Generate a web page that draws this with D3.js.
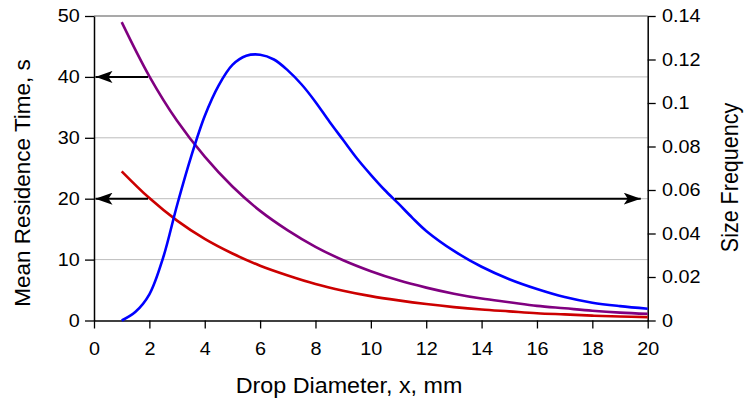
<!DOCTYPE html>
<html>
<head>
<meta charset="utf-8">
<script src="https://cdn.jsdelivr.net/npm/d3@7"></script>
<style>
  body { margin: 0; background: #fff; }
  svg text { font-family: "Liberation Sans", Arial, sans-serif; fill: #000; }
</style>
</head>
<body>
<div class="visData"></div>
<script>
const w = 744;
const h = 400;
const margin = { top: 16, right: 96.3, bottom: 79.5, left: 94 };

// drop diameter (mm) for the residence time curves
const diameters = [1, 2, 3, 4, 5, 6, 7, 8, 9, 10, 11, 12, 13, 14, 15, 16, 17, 18, 19, 20];
// mean residence time, s (purple and red)
const timeUpper = [49, 40.1, 32.8, 26.9, 22.0, 18.0, 14.8, 12.1, 9.9, 8.1, 6.6, 5.4, 4.4, 3.6, 3.0, 2.4, 2.0, 1.6, 1.3, 1.1];
const timeLower = [24.5, 20.1, 16.4, 13.4, 11.0, 9.0, 7.4, 6.0, 4.9, 4.0, 3.3, 2.7, 2.2, 1.8, 1.5, 1.2, 1.0, 0.8, 0.65, 0.55];

// size frequency (blue), right axis
const freqX = [1, 1.5, 2, 2.5, 3, 3.5, 4, 4.5, 5, 5.5, 6, 6.5, 7, 7.5, 8, 8.5, 9, 9.5, 10, 10.5, 11, 11.5, 12, 13, 14, 15, 16, 17, 18, 19, 20];
const freqY = [0, 0.004, 0.012, 0.029, 0.053, 0.075, 0.094, 0.108, 0.1175, 0.1217, 0.1222, 0.12, 0.115, 0.1085, 0.1005, 0.0915, 0.083, 0.0745, 0.067, 0.06, 0.0537, 0.0472, 0.0412, 0.032, 0.0247, 0.019, 0.0145, 0.0108, 0.0082, 0.0066, 0.0054];

// arrows: [from x, to x, at residence time]
const arrows = [[1.95, 0, 40], [1.95, 0, 20], [10.87, 19.75, 20]];

const xTicks = d3.range(0, 21, 2);
const yTicks = d3.range(0, 51, 10);
const y2Ticks = [0, 0.02, 0.04, 0.06, 0.08, 0.1, 0.12, 0.14];

const svg = d3.select(".visData").append("svg")
  .attr("width", w).attr("height", h);

const x = d3.scaleLinear().domain([0, 20]).range([margin.left, w - margin.right]);
const y = d3.scaleLinear().domain([0, 50]).range([h - margin.bottom, margin.top]);
const y2 = d3.scaleLinear().domain([0, 0.14]).range([h - margin.bottom, margin.top]);

// grid lines
svg.append("g").selectAll("line")
  .data(yTicks.filter(d => d > 0))
  .enter().append("line")
  .attr("x1", x(0)).attr("x2", x(20))
  .attr("y1", d => y(d)).attr("y2", d => y(d))
  .attr("stroke", d => d === 50 ? "#8c8c8c" : "#bdbdbd")
  .attr("stroke-width", d => d === 50 ? 1.3 : 1);

// the picture is a bit wider than tall, so text is stretched sideways
const stretch = "scale(1.1,1)";

const xAxis = svg.append("g")
  .attr("transform", `translate(0, ${y(0)})`)
  .call(d3.axisBottom(x).tickValues(xTicks).tickSize(8).tickPadding(14).tickSizeOuter(0));
const yAxis = svg.append("g")
  .attr("transform", `translate(${x(0)}, 0)`)
  .call(d3.axisLeft(y).tickValues(yTicks).tickSize(9).tickPadding(4).tickSizeOuter(0));
const y2Axis = svg.append("g")
  .attr("transform", `translate(${x(20)}, 0)`)
  .call(d3.axisRight(y2).tickValues(y2Ticks).tickFormat(d3.format("")).tickSize(8).tickPadding(5).tickSizeOuter(0));

[xAxis, yAxis, y2Axis].forEach(g => {
  g.attr("font-family", null).attr("font-size", null);
  g.selectAll("text").style("font-size", "18px").attr("transform", stretch);
  g.select(".domain").attr("stroke", "#000").attr("stroke-width", 1.5);
  g.selectAll(".tick line").attr("stroke", "#000").attr("stroke-width", 1.3);
});

// curves
const line = d3.line().curve(d3.curveCatmullRom.alpha(0.5));
const drawCurve = (xs, ys, scale, color) => {
  svg.append("path")
    .attr("d", line(xs.map((d, i) => [x(d), scale(ys[i])])))
    .attr("fill", "none")
    .attr("stroke", color)
    .attr("stroke-width", 2.6);
};
drawCurve(diameters, timeLower, y, "#cc0000");
drawCurve(diameters, timeUpper, y, "#800080");
drawCurve(freqX, freqY, y2, "#0000ff");

// arrows
svg.append("defs").append("marker")
  .attr("id", "head")
  .attr("viewBox", "0 0 17 12")
  .attr("refX", 17).attr("refY", 6)
  .attr("markerWidth", 17).attr("markerHeight", 12)
  .attr("markerUnits", "userSpaceOnUse")
  .attr("orient", "auto")
  .append("path")
  .attr("d", "M0,0 L17,6 L0,12 L4,6 Z")
  .attr("fill", "#000");

svg.append("g").selectAll("line")
  .data(arrows)
  .enter().append("line")
  .attr("x1", d => x(d[0]))
  .attr("x2", d => x(d[1]) + (d[1] === 0 ? 1.5 : 0))
  .attr("y1", d => y(d[2])).attr("y2", d => y(d[2]))
  .attr("stroke", "#000").attr("stroke-width", 2)
  .attr("marker-end", "url(#head)");

// titles
svg.append("text")
  .attr("transform", `translate(349, 393) ${stretch}`)
  .attr("text-anchor", "middle")
  .style("font-size", "21.2px")
  .text("Drop Diameter, x, mm");

svg.append("text")
  .attr("transform", `translate(30, 183) rotate(-90)`)
  .attr("text-anchor", "middle")
  .style("font-size", "22.5px")
  .text("Mean Residence Time, s");

svg.append("text")
  .attr("transform", `translate(738.3, 177.5) ${stretch} rotate(-90)`)
  .attr("text-anchor", "middle")
  .style("font-size", "21.5px")
  .text("Size Frequency");
</script>
</body>
</html>
